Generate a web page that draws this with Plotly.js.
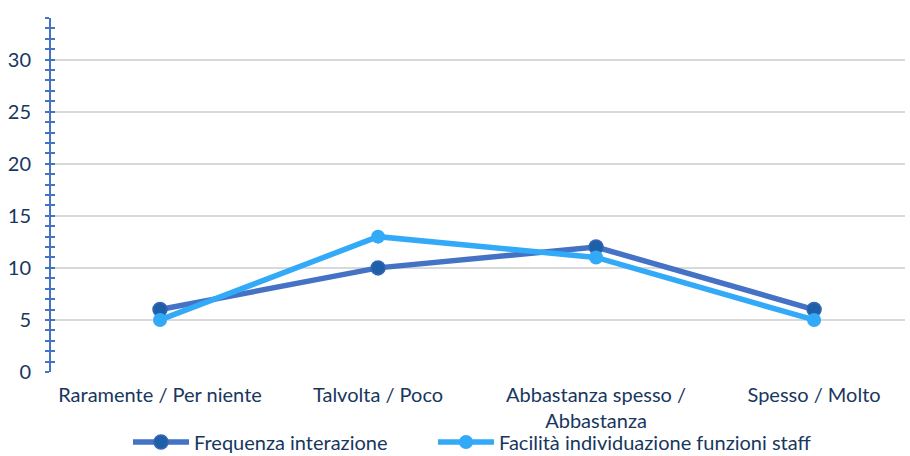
<!DOCTYPE html>
<html><head><meta charset="utf-8">
<script src="https://cdn.plot.ly/plotly-3.0.1.min.js"></script>
<style>html,body{margin:0;padding:0;background:#fff;}#chart{width:910px;height:456px;}</style>
</head><body><div id="chart"></div>
<script>
const categories = ["Raramente / Per niente", "Talvolta / Poco", "Abbastanza spesso /<br>Abbastanza", "Spesso / Molto"];
const seriesNames = ["Frequenza interazione", "Facilità individuazione funzioni staff"];
const frequenza = [6, 10, 12, 6];
const facilita = [5, 13, 11, 5];
const yTicks = [0, 5, 10, 15, 20, 25, 30];

const textColor = "#17375e";
const fontSize = 20;
const traces = [
  {x: categories, y: frequenza, name: seriesNames[0], type: "scatter", mode: "lines+markers", legend: "legend",
   line: {color: "#4472c4", width: 5.5}, marker: {color: "#1f5fa8", size: 14, line: {color: "#3466b8", width: 1.5}}},
  {x: categories, y: facilita, name: seriesNames[1], type: "scatter", mode: "lines+markers", legend: "legend2",
   line: {color: "#33aaf8", width: 5.5}, marker: {color: "#33aaf8", size: 14}},
  {x: categories, y: facilita, yaxis: "y2", type: "scatter", mode: "none", showlegend: false, hoverinfo: "skip"}
];
function legendAt(px) {
  return {orientation: "h", xref: "container", yref: "container", x: px/910, xanchor: "left",
          y: 14/456, yanchor: "middle", bgcolor: "rgba(0,0,0,0)",
          font: {size: fontSize, color: textColor}, itemwidth: 56, tracegroupgap: 0};
}
const layout = {
  width: 910, height: 456,
  margin: {l: 51, r: 5, t: 18, b: 84, autoexpand: false},
  paper_bgcolor: "#fff", plot_bgcolor: "#fff",
  font: {family: "Lato, 'Open Sans', sans-serif", size: fontSize, color: textColor},
  showlegend: true,
  legend: legendAt(128),
  legend2: legendAt(433),
  xaxis: {type: "category", range: [-0.5, 3.417], showgrid: false, zeroline: false, automargin: false,
          showline: false, ticks: "outside", ticklen: 5, tickcolor: "rgba(0,0,0,0)",
          tickfont: {size: fontSize, color: textColor}},
  yaxis: {range: [0, 34], tickvals: yTicks, showgrid: true, gridcolor: "#d9d9d9", gridwidth: 2,
          zeroline: false, showline: true, linecolor: "#4472c4", linewidth: 2, automargin: false,
          ticks: "outside", ticklen: 4, tickwidth: 2, tickcolor: "#4472c4",
          minor: {dtick: 1, ticks: "outside", ticklen: 4, tickwidth: 2, tickcolor: "#4472c4", showgrid: false},
          tickfont: {size: fontSize, color: textColor}, ticklabelstandoff: 10},
  yaxis2: {overlaying: "y", range: [0, 34], tickvals: yTicks, showticklabels: false, showgrid: false,
           zeroline: false, showline: false, ticks: "inside", ticklen: 4, tickwidth: 2, tickcolor: "#4472c4",
           automargin: false,
           minor: {dtick: 1, ticks: "inside", ticklen: 4, tickwidth: 2, tickcolor: "#4472c4", showgrid: false}}
};
Plotly.newPlot("chart", traces, layout, {displayModeBar: false, staticPlot: true});
</script></body></html>
